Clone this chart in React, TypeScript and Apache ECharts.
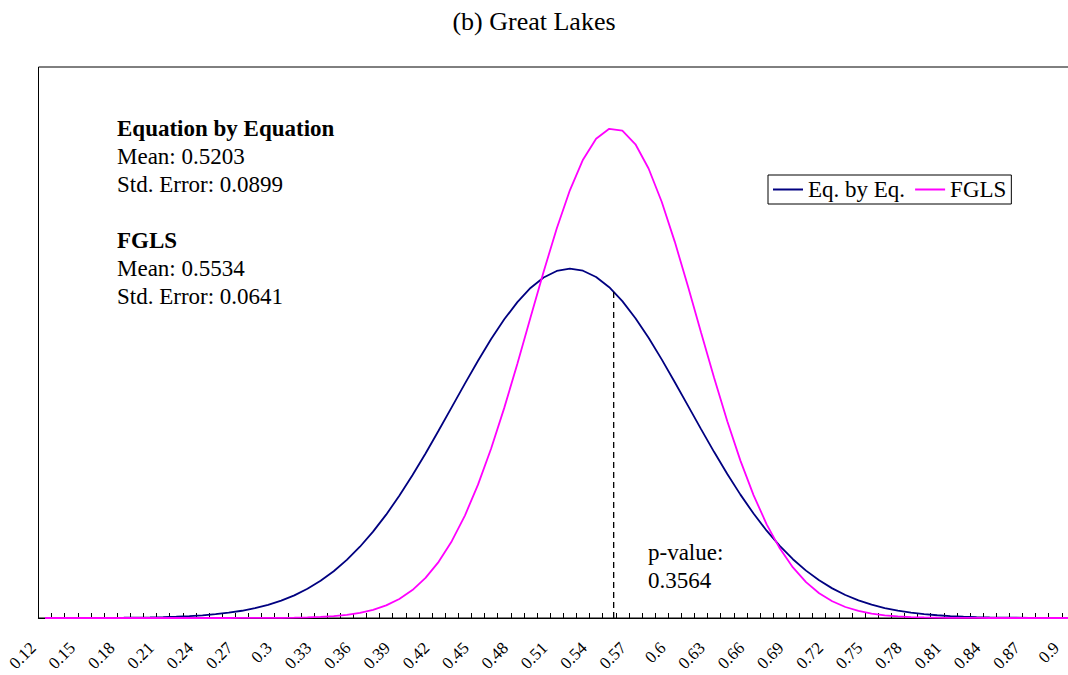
import React, { useEffect, useRef } from "react";
import * as echarts from "echarts";

// x categories (0.12 .. 0.91, step 0.01)
const categories: string[] = [
  "0.12", "0.13", "0.14", "0.15", "0.16", "0.17", "0.18", "0.19", "0.2", "0.21",
  "0.22", "0.23", "0.24", "0.25", "0.26", "0.27", "0.28", "0.29", "0.3", "0.31",
  "0.32", "0.33", "0.34", "0.35", "0.36", "0.37", "0.38", "0.39", "0.4", "0.41",
  "0.42", "0.43", "0.44", "0.45", "0.46", "0.47", "0.48", "0.49", "0.5", "0.51",
  "0.52", "0.53", "0.54", "0.55", "0.56", "0.57", "0.58", "0.59", "0.6", "0.61",
  "0.62", "0.63", "0.64", "0.65", "0.66", "0.67", "0.68", "0.69", "0.7", "0.71",
  "0.72", "0.73", "0.74", "0.75", "0.76", "0.77", "0.78", "0.79", "0.8", "0.81",
  "0.82", "0.83", "0.84", "0.85", "0.86", "0.87", "0.88", "0.89", "0.9", "0.91",
];

// Equation by Equation density
const eqByEq: number[] = [
  0.0002, 0.0004, 0.0006, 0.0009, 0.0014, 0.0022, 0.0034, 0.0052, 0.0078, 0.0115,
  0.0168, 0.0241, 0.0344, 0.0483, 0.0671, 0.092, 0.1247, 0.1668, 0.2204, 0.2877,
  0.3708, 0.4723, 0.594, 0.7381, 0.9054, 1.0971, 1.313, 1.5523, 1.8128, 2.0906,
  2.3817, 2.6795, 2.9781, 3.2689, 3.5436, 3.7946, 4.0134, 4.1927, 4.3259, 4.4087,
  4.4377, 4.4119, 4.3325, 4.202, 4.0254, 3.8089, 3.5595, 3.2857, 2.9955, 2.6977,
  2.3995, 2.1079, 1.8288, 1.5674, 1.3269, 1.1094, 0.9164, 0.7469, 0.6022, 0.4788,
  0.3764, 0.2921, 0.2241, 0.1697, 0.1269, 0.0938, 0.0684, 0.0493, 0.0351, 0.0247,
  0.0171, 0.0117, 0.008, 0.0053, 0.0035, 0.0023, 0.0015, 0.0009, 0.0006, 0.0004,
];

// FGLS density
const fgls: number[] = [
  0, 0, 0, 0, 0, 0, 0, 0, 0, 0,
  0, 0, 0, 0.0001, 0.0002, 0.0004, 0.0007, 0.0013, 0.0025, 0.0046,
  0.0082, 0.0143, 0.0244, 0.0405, 0.0657, 0.1039, 0.1603, 0.2416, 0.3551, 0.5097,
  0.7138, 0.9756, 1.3013, 1.6942, 2.1528, 2.6694, 3.2309, 3.8162, 4.399, 4.9489,
  5.4335, 5.8227, 6.0893, 6.215, 6.1909, 6.0185, 5.7103, 5.2876, 4.7785, 4.2148,
  3.6277, 3.0476, 2.4986, 1.9994, 1.5614, 1.1899, 0.8852, 0.6425, 0.4553, 0.3148,
  0.2124, 0.1399, 0.0899, 0.0564, 0.0345, 0.0206, 0.012, 0.0069, 0.0038, 0.0021,
  0.0011, 0.0006, 0.0003, 0.0001, 0.0001, 0, 0, 0, 0, 0,
];

// p-value marker: at the FGLS mean, up to the Eq.-by-Eq. curve
const pLineX: number[] = [0.5534, 0.5534];
const pLineY: number[] = [0, 4.146];

const annotationLines: { text: string; bold: boolean }[] = [
  { text: "Equation by Equation", bold: true },
  { text: "Mean: 0.5203", bold: false },
  { text: "Std. Error: 0.0899", bold: false },
  { text: "", bold: false },
  { text: "FGLS", bold: true },
  { text: "Mean: 0.5534", bold: false },
  { text: "Std. Error: 0.0641", bold: false },
];
const pValueLines: string[] = ["p-value:", "0.3564"];

const FONT = "'Liberation Serif', 'Times New Roman', Times, serif";

export default function App() {
  const ref = useRef<HTMLDivElement>(null);

  useEffect(() => {
    if (!ref.current) return;
    const chart = echarts.init(ref.current, undefined, { renderer: "svg" });

    const graphics: any[] = [];
    const annotY = [128, 156, 184, 212, 240, 268, 296];
    annotationLines.forEach((l, i) => {
      if (!l.text) return;
      graphics.push({
        type: "text",
        x: 117,
        y: annotY[i],
        style: {
          text: l.text,
          fontFamily: FONT,
          fontSize: 23,
          fontWeight: l.bold ? "bold" : "normal",
          fill: "#000",
          verticalAlign: "middle",
        },
      });
    });
    pValueLines.forEach((t, i) => {
      graphics.push({
        type: "text",
        x: 648,
        y: 552 + i * 28,
        style: {
          text: t,
          fontFamily: FONT,
          fontSize: 23,
          fill: "#000",
          verticalAlign: "middle",
        },
      });
    });

    chart.setOption({
      animation: false,
      backgroundColor: "#fff",
      title: {
        text: "(b) Great Lakes",
        left: "center",
        top: 3,
        textStyle: { fontFamily: FONT, fontSize: 26, fontWeight: "normal", color: "#000" },
      },
      legend: {
        data: ["Eq. by Eq.", "FGLS"],
        left: 768,
        top: 175,
        icon: "rect",
        itemWidth: 30,
        itemHeight: 2,
        itemGap: 10,
        padding: [3, 5, 3, 5],
        borderColor: "#000",
        borderWidth: 1,
        backgroundColor: "#fff",
        textStyle: { fontFamily: FONT, fontSize: 23, color: "#000" },
      },
      grid: {
        left: 38.5,
        width: 1049.6,
        top: 67,
        height: 551,
        show: true,
        borderColor: "#000",
        borderWidth: 1,
        containLabel: false,
        outerBoundsMode: "none",
      },
      xAxis: [
        {
          type: "category",
          data: categories,
          boundaryGap: true,
          axisLine: { show: true, lineStyle: { color: "#000", width: 1.2 } },
          axisTick: { show: true, inside: true, length: 5, interval: 0, lineStyle: { color: "#000" } },
          axisLabel: {
            interval: 2,
            rotate: 45,
            margin: 15,
            padding: [0, 17, 0, 0],
            fontFamily: FONT,
            fontSize: 17,
            color: "#000",
          },
          splitLine: { show: false },
        },
        {
          type: "value",
          min: 0.115,
          max: 0.915,
          show: false,
          splitLine: { show: false },
        },
      ],
      yAxis: {
        type: "value",
        min: 0,
        max: 7,
        show: false,
        splitLine: { show: false },
      },
      series: [
        {
          name: "Eq. by Eq.",
          type: "line",
          data: eqByEq,
          symbol: "none",
          smooth: false,
          lineStyle: { color: "#000080", width: 1.8 },
          itemStyle: { color: "#000080" },
        },
        {
          name: "FGLS",
          type: "line",
          data: fgls,
          symbol: "none",
          smooth: false,
          lineStyle: { color: "#FF00FF", width: 1.8 },
          itemStyle: { color: "#FF00FF" },
        },
        {
          name: "p-line",
          type: "line",
          xAxisIndex: 1,
          data: pLineX.map((x, i) => [x, pLineY[i]]),
          symbol: "none",
          lineStyle: { color: "#000", width: 1.3, type: [6, 4] },
          silent: true,
        },
      ],
      graphic: graphics,
    });

    return () => chart.dispose();
  }, []);

  return (
    <div
      ref={ref}
      style={{ position: "absolute", left: 0, top: 0, width: 1068, height: 675 }}
    />
  );
}
